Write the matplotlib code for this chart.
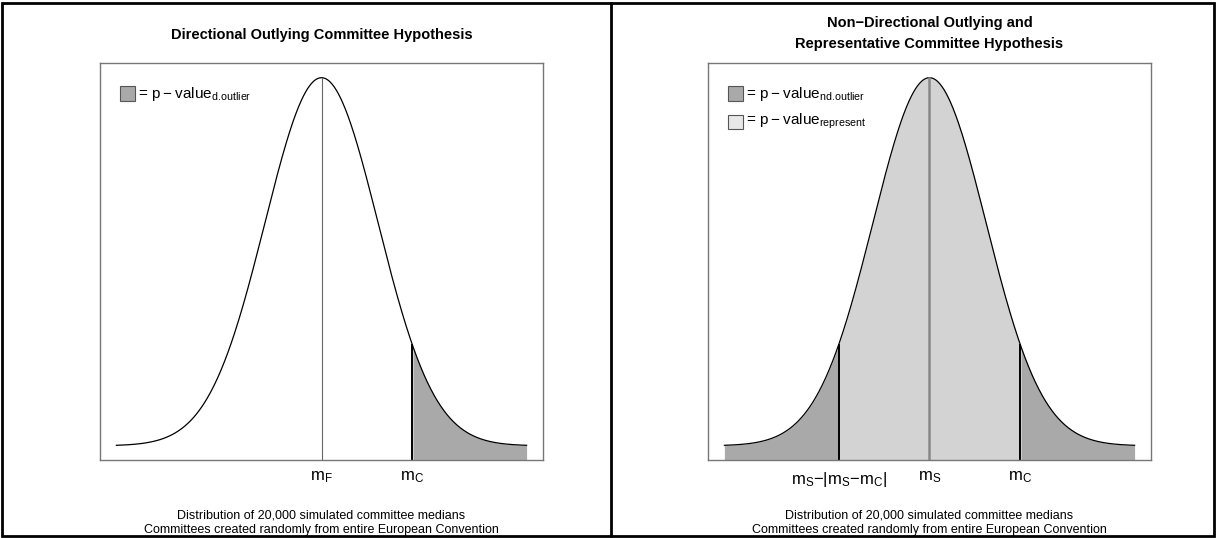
import numpy as np
import matplotlib.pyplot as plt
from matplotlib.patches import Rectangle
from matplotlib.lines import Line2D

plt.rcParams['font.family'] = ['Liberation Sans', 'DejaVu Sans']
plt.rcParams['mathtext.fontset'] = 'custom'
plt.rcParams['mathtext.rm'] = 'Liberation Sans'
plt.rcParams['mathtext.it'] = 'Liberation Sans:italic'

# simulated medians, in sd units of the distribution
dist_mean = 0.0
dist_sd = 1.0
x_lo, x_hi = -3.63, 3.63

# left panel: directional
m_F = 0.0
m_C_left = 1.61
# right panel: non-directional
m_S = 0.0
m_C_right = 1.61
m_low = m_S - abs(m_S - m_C_right)

titles = ["Directional Outlying Committee Hypothesis",
          "Non\u2212Directional Outlying and\nRepresentative Committee Hypothesis"]
footer = ("Distribution of 20,000 simulated committee medians\n"
          "Committees created randomly from entire European Convention")
pval = "= p\u2009\u2212\u2009value"

dark = '#a9a9a9'
light = '#d3d3d3'

xs = np.linspace(x_lo, x_hi, 600)
ys = np.exp(-0.5 * ((xs - dist_mean) / dist_sd) ** 2) / (dist_sd * np.sqrt(2 * np.pi))
ypad = 0.04 * (ys.max() - ys.min())
xpad = 0.04 * (x_hi - x_lo)
ybot = ys.min() - ypad

fig = plt.figure(figsize=(12.17, 5.38), dpi=100)

ax1 = fig.add_axes([100 / 1217, 78 / 538, 443 / 1217, 397 / 538])
ax2 = fig.add_axes([708 / 1217, 78 / 538, 443 / 1217, 397 / 538])

for ax in (ax1, ax2):
    ax.set_xlim(x_lo - xpad, x_hi + xpad)
    ax.set_ylim(ybot, ys.max() + ypad)
    ax.set_yticks([])
    ax.tick_params(axis='x', length=0, pad=7, labelsize=12)
    for s in ax.spines.values():
        s.set_color('#777777')
        s.set_linewidth(1.0)

# left
mask = xs >= m_C_left
ax1.fill_between(xs[mask], ybot, ys[mask], color=dark, lw=0)
ax1.plot(xs, ys, color='black', lw=0.9)
ax1.plot([m_F, m_F], [ybot, ys.max()], color='#666666', lw=0.8)
yc = np.interp(m_C_left, xs, ys)
ax1.plot([m_C_left, m_C_left], [ybot, yc], color='black', lw=1.4)
ax1.set_xticks([m_F, m_C_left])
ax1.set_xticklabels([r"m$_\mathrm{F}$", r"m$_\mathrm{C}$"])
ax1.set_title(titles[0], fontsize=10.5, fontweight='bold', pad=17.5)
ax1.add_patch(Rectangle((0.045, 0.905), 0.034, 0.036, transform=ax1.transAxes,
                        facecolor=dark, edgecolor='#555555', lw=0.8))
ax1.text(0.086, 0.923, pval + r"$_\mathrm{d.\!outlier}$", transform=ax1.transAxes,
         va='center', fontsize=11)

# right
mid = (xs >= m_low) & (xs <= m_C_right)
ax2.fill_between(xs[mid], ybot, ys[mid], color=light, lw=0)
ax2.fill_between(xs[xs <= m_low], ybot, ys[xs <= m_low], color=dark, lw=0)
ax2.fill_between(xs[xs >= m_C_right], ybot, ys[xs >= m_C_right], color=dark, lw=0)
ax2.plot(xs, ys, color='black', lw=0.9)
ax2.plot([m_S, m_S], [ybot, ys.max()], color='#888888', lw=1.8)
for v in (m_low, m_C_right):
    ax2.plot([v, v], [ybot, np.interp(v, xs, ys)], color='black', lw=1.4)
ax2.set_xticks([m_low, m_S, m_C_right])
ax2.set_xticklabels(["m$_\\mathrm{S}$\u2212|m$_\\mathrm{S}$\u2212m$_\\mathrm{C}$|",
                     r"m$_\mathrm{S}$", r"m$_\mathrm{C}$"])
ax2.set_title(titles[1], fontsize=10.5, fontweight='bold', pad=11, linespacing=1.6)
ax2.add_patch(Rectangle((0.045, 0.905), 0.034, 0.036, transform=ax2.transAxes,
                        facecolor=dark, edgecolor='#555555', lw=0.8))
ax2.text(0.086, 0.923, pval + r"$_\mathrm{nd.\!outlier}$", transform=ax2.transAxes,
         va='center', fontsize=11)
ax2.add_patch(Rectangle((0.045, 0.834), 0.034, 0.036, transform=ax2.transAxes,
                        facecolor='#e8e8e8', edgecolor='#555555', lw=0.8))
ax2.text(0.086, 0.852, pval + r"$_\mathrm{represent}$", transform=ax2.transAxes,
         va='center', fontsize=11)

for ax in (ax1, ax2):
    ax.text(0.5, -0.125, footer, transform=ax.transAxes, ha='center', va='top',
            fontsize=9, linespacing=1.25)

# outer frame and divider
fig.add_artist(Rectangle((2 / 1217, 2 / 538), 1212 / 1217, 533 / 538,
                         transform=fig.transFigure, fill=False, edgecolor='black', lw=2))
fig.add_artist(Line2D([611 / 1217, 611 / 1217], [2 / 538, 535 / 538], transform=fig.transFigure,
                      color='black', lw=2))

fig.savefig('out.png', dpi=100)
